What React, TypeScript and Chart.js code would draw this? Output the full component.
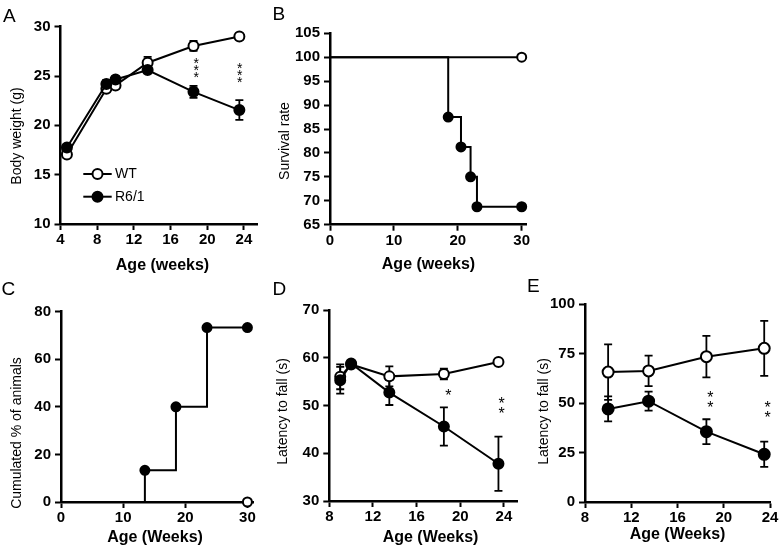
import React, { useEffect, useRef } from 'react';
import { Chart, registerables } from 'chart.js';

Chart.register(...registerables);

// ---------------- DATA ----------------
// Panel A – body weight (g)
const agesA = [4.7, 9, 10, 13.5, 18.5, 23.5];
const wtWeight = [17.05, 23.7, 24.05, 26.35, 28.05, 29.0];
const wtWeightErr = [0.2, 0.3, 0.3, 0.6, 0.5, 0.3];
const r6Weight = [17.75, 24.2, 24.65, 25.6, 23.4, 21.55];
const r6WeightErr = [0.2, 0.4, 0.3, 0.3, 0.6, 1.0];
const sigWeight = [
  { x: 18.8, y: 25.95, t: '***' },
  { x: 23.55, y: 25.45, t: '***' },
];
const legendLabels = ['WT', 'R6/1'];

// Panel B – survival rate
const survWeeksWT = [0, 30];
const survWT = [100, 100];
const survWeeksR6 = [0, 18.5, 20.5, 22, 23, 30];
const survR6 = [100, 87.5, 81.25, 75, 68.75, 68.75];

// Panel C – cumulated % of animals
const onsetWeeksR6 = [13.5, 13.5, 18.5, 23.5, 30];
const onsetR6 = [0, 13.33, 40, 73.33, 73.33];
const onsetWeeksWT = [30];
const onsetWT = [0];

// Panel D – latency to fall (s)
const agesD = [9, 10, 13.5, 18.5, 23.5];
const wtRotaD = [56.0, 58.6, 56.1, 56.6, 59.1];
const wtRotaDErr = [2.6, 0.5, 2.1, 1.1, 0.4];
const r6RotaD = [55.3, 58.8, 52.7, 45.6, 37.8];
const r6RotaDErr = [2.8, 0.5, 2.6, 4.0, 5.7];
const sigD = [
  { x: 18.9, y: 52.8, t: '*' },
  { x: 23.8, y: 50.2, t: '**' },
];

// Panel E – latency to fall (s)
const agesE = [10, 13.5, 18.5, 23.5];
const wtRotaE = [65.6, 66.2, 73.4, 77.6];
const wtRotaEErr = [14.0, 7.7, 10.5, 13.9];
const r6RotaE = [47.0, 50.9, 35.5, 24.1];
const r6RotaEErr = [6.3, 4.8, 6.3, 6.4];
const sigE = [
  { x: 18.85, y: 52.0, t: '**' },
  { x: 23.8, y: 47.0, t: '**' },
];

// ---------------- STYLE / LAYOUT ----------------
const FONT = "'Liberation Sans', Arial, Helvetica, sans-serif";
const W = 780;
const H = 555;
const YAXIS_W = 50;
const XAXIS_H = 40;

type Sig = { x: number; y: number; t: string };
type Series = {
  label: string;
  xs: number[];
  ys: number[];
  errs?: number[];
  filled: boolean;
  radius: number | number[];
  stepped?: boolean;
  order: number;
};
type Panel = {
  letter: string;
  letterPos: [number, number];
  area: { l: number; t: number; r: number; b: number };
  x: { min: number; max: number; step: number };
  y: { min: number; max: number; step: number };
  xTitle: string;
  xTitlePos: [number, number];
  yTitle: string;
  yTitlePos: [number, number];
  series: Series[];
  sigs?: Sig[];
  sigFont?: number;
  sigGap?: number;
  legend?: { x0: number; x1: number; cx: number; tx: number; ys: number[]; radius: number };
};

const PANELS: Panel[] = [
  {
    letter: 'A',
    letterPos: [3, 21.5],
    area: { l: 60.5, t: 26.7, r: 257.7, b: 224 },
    x: { min: 4, max: 25.5, step: 4 },
    y: { min: 10, max: 30, step: 5 },
    xTitle: 'Age (weeks)',
    xTitlePos: [162.5, 269.5],
    yTitle: 'Body weight (g)',
    yTitlePos: [17, 136],
    series: [
      { label: legendLabels[0], xs: agesA, ys: wtWeight, errs: wtWeightErr, filled: false, radius: 5, order: 1 },
      { label: legendLabels[1], xs: agesA, ys: r6Weight, errs: r6WeightErr, filled: true, radius: 5, order: 0 },
    ],
    sigs: sigWeight,
    sigFont: 14,
    sigGap: 7,
    legend: { x0: 83.3, x1: 111.7, cx: 97.5, tx: 115, ys: [174, 196.7], radius: 5 },
  },
  {
    letter: 'B',
    letterPos: [272.5, 19.5],
    area: { l: 330, t: 33.3, r: 526.8, b: 224.7 },
    x: { min: 0, max: 30.8, step: 10 },
    y: { min: 65, max: 105, step: 5 },
    xTitle: 'Age (weeks)',
    xTitlePos: [428.5, 269],
    yTitle: 'Survival rate',
    yTitlePos: [285.5, 141],
    series: [
      { label: 'WT', xs: survWeeksWT, ys: survWT, filled: false, radius: [0, 4.5], order: 1 },
      { label: 'R6/1', xs: survWeeksR6, ys: survR6, filled: true, radius: [0, 4.5, 4.5, 4.5, 4.5, 4.5], stepped: true, order: 0 },
    ],
  },
  {
    letter: 'C',
    letterPos: [1.5, 295],
    area: { l: 61, t: 311.7, r: 253, b: 502 },
    x: { min: 0, max: 30.9, step: 10 },
    y: { min: 0, max: 80, step: 20 },
    xTitle: 'Age (Weeks)',
    xTitlePos: [155, 541.5],
    yTitle: 'Cumulated % of animals',
    yTitlePos: [17.5, 433],
    series: [
      { label: 'WT', xs: onsetWeeksWT, ys: onsetWT, filled: false, radius: 4.5, order: 0 },
      { label: 'R6/1', xs: onsetWeeksR6, ys: onsetR6, filled: true, radius: [0, 4.5, 4.5, 4.5, 4.5], stepped: true, order: 1 },
    ],
  },
  {
    letter: 'D',
    letterPos: [272.5, 295],
    area: { l: 329.3, t: 310, r: 517, b: 501 },
    x: { min: 8, max: 25.2, step: 4 },
    y: { min: 30, max: 70, step: 10 },
    xTitle: 'Age (Weeks)',
    xTitlePos: [430.5, 541.5],
    yTitle: 'Latency to fall (s)',
    yTitlePos: [283.5, 411.5],
    series: [
      { label: 'WT', xs: agesD, ys: wtRotaD, errs: wtRotaDErr, filled: false, radius: 5, order: 1 },
      { label: 'R6/1', xs: agesD, ys: r6RotaD, errs: r6RotaDErr, filled: true, radius: 5, order: 0 },
    ],
    sigs: sigD,
    sigFont: 16,
    sigGap: 10,
  },
  {
    letter: 'E',
    letterPos: [527, 291.5],
    area: { l: 585, t: 304, r: 770, b: 502 },
    x: { min: 8, max: 24, step: 4 },
    y: { min: 0, max: 100, step: 25 },
    xTitle: 'Age (Weeks)',
    xTitlePos: [677.5, 539],
    yTitle: 'Latency to fall (s)',
    yTitlePos: [544.5, 411.5],
    series: [
      { label: 'WT', xs: agesE, ys: wtRotaE, errs: wtRotaEErr, filled: false, radius: 5.5, order: 1 },
      { label: 'R6/1', xs: agesE, ys: r6RotaE, errs: r6RotaEErr, filled: true, radius: 5.5, order: 0 },
    ],
    sigs: sigE,
    sigFont: 16,
    sigGap: 10,
  },
];

// ---------------- PLUGINS ----------------
function makeErrorBars(p: Panel) {
  return {
    id: 'errorBars' + p.letter,
    beforeDatasetsDraw(chart: any) {
      const ctx = chart.ctx;
      const xs = chart.scales.x;
      const ys = chart.scales.y;
      ctx.save();
      ctx.strokeStyle = '#000';
      ctx.lineWidth = 1.8;
      p.series.forEach((s) => {
        if (!s.errs) return;
        s.xs.forEach((xv, i) => {
          const e = s.errs![i];
          if (!e) return;
          const px = xs.getPixelForValue(xv);
          const y1 = ys.getPixelForValue(s.ys[i] + e);
          const y2 = ys.getPixelForValue(s.ys[i] - e);
          ctx.beginPath();
          ctx.moveTo(px, y1);
          ctx.lineTo(px, y2);
          ctx.moveTo(px - 4, y1);
          ctx.lineTo(px + 4, y1);
          ctx.moveTo(px - 4, y2);
          ctx.lineTo(px + 4, y2);
          ctx.stroke();
        });
      });
      ctx.restore();
    },
  };
}

function makeDecor(p: Panel) {
  return {
    id: 'decor' + p.letter,
    afterDraw(chart: any) {
      const ctx = chart.ctx;
      const xs = chart.scales.x;
      const ys = chart.scales.y;
      ctx.save();
      ctx.fillStyle = '#000';
      // panel letter
      ctx.font = `19px ${FONT}`;
      ctx.textAlign = 'left';
      ctx.textBaseline = 'alphabetic';
      ctx.fillText(p.letter, p.letterPos[0], p.letterPos[1]);
      // x title
      ctx.font = `bold 16px ${FONT}`;
      ctx.textAlign = 'center';
      ctx.fillText(p.xTitle, p.xTitlePos[0], p.xTitlePos[1]);
      // y title
      ctx.save();
      ctx.translate(p.yTitlePos[0], p.yTitlePos[1]);
      ctx.rotate(-Math.PI / 2);
      ctx.font = `14px ${FONT}`;
      ctx.textAlign = 'center';
      ctx.textBaseline = 'middle';
      ctx.fillText(p.yTitle, 0, 0);
      ctx.restore();
      // significance stars
      if (p.sigs) {
        const fs = p.sigFont || 14;
        const gap = p.sigGap || 7;
        ctx.font = `${fs}px ${FONT}`;
        ctx.textAlign = 'center';
        ctx.textBaseline = 'alphabetic';
        p.sigs.forEach((s) => {
          const px = xs.getPixelForValue(s.x);
          const py = ys.getPixelForValue(s.y);
          const n = s.t.length;
          for (let k = 0; k < n; k++) {
            const cy = py + (k - (n - 1) / 2) * gap;
            ctx.fillText('*', px, cy + 0.58 * fs);
          }
        });
      }
      // legend
      if (p.legend) {
        const L = p.legend;
        p.series.forEach((s, i) => {
          const y = L.ys[i];
          ctx.strokeStyle = '#000';
          ctx.lineWidth = 2;
          ctx.beginPath();
          ctx.moveTo(L.x0, y);
          ctx.lineTo(L.x1, y);
          ctx.stroke();
          ctx.beginPath();
          ctx.arc(L.cx, y, L.radius, 0, Math.PI * 2);
          ctx.fillStyle = s.filled ? '#000' : '#fff';
          ctx.fill();
          ctx.lineWidth = 2;
          ctx.stroke();
          ctx.fillStyle = '#000';
          ctx.font = `14px ${FONT}`;
          ctx.textAlign = 'left';
          ctx.textBaseline = 'middle';
          ctx.fillText(s.label, L.tx, y);
        });
      }
      ctx.restore();
    },
  };
}

function axisOpts(r: { min: number; max: number; step: number }, horizontal: boolean) {
  return {
    type: 'linear' as const,
    min: r.min,
    max: r.max,
    afterFit: (scale: any) => {
      if (horizontal) scale.height = XAXIS_H;
      else scale.width = YAXIS_W;
    },
    ticks: {
      stepSize: r.step,
      includeBounds: false,
      autoSkip: false,
      maxRotation: 0,
      minRotation: 0,
      color: '#000',
      padding: horizontal ? 1 : 4,
      font: { family: FONT, size: 15, weight: 'bold' as const },
    },
    grid: {
      display: true,
      drawOnChartArea: false,
      drawTicks: true,
      tickLength: 6,
      tickWidth: 2,
      tickColor: '#000',
    },
    border: { display: true, color: '#000', width: 2.5 },
    title: { display: false },
  };
}

function buildConfig(p: Panel): any {
  return {
    type: 'line',
    data: {
      datasets: p.series.map((s) => ({
        label: s.label,
        data: s.xs.map((x, i) => ({ x, y: s.ys[i] })),
        borderColor: '#000',
        borderWidth: 2,
        backgroundColor: s.filled ? '#000' : '#fff',
        pointBackgroundColor: s.filled ? '#000' : '#fff',
        pointBorderColor: '#000',
        pointBorderWidth: 2,
        pointRadius: s.radius,
        pointHoverRadius: s.radius,
        stepped: s.stepped ? true : false,
        tension: 0,
        fill: false,
        clip: false,
        order: s.order,
      })),
    },
    options: {
      responsive: false,
      maintainAspectRatio: false,
      animation: false,
      devicePixelRatio: 1,
      events: [],
      layout: {
        padding: {
          left: p.area.l - YAXIS_W,
          right: W - p.area.r,
          top: p.area.t,
          bottom: H - p.area.b - XAXIS_H,
        },
      },
      scales: {
        x: axisOpts(p.x, true),
        y: axisOpts(p.y, false),
      },
      plugins: {
        legend: { display: false },
        tooltip: { enabled: false },
        title: { display: false },
      },
    },
    plugins: [makeErrorBars(p), makeDecor(p)],
  };
}

export default function App() {
  const refs = useRef<(HTMLCanvasElement | null)[]>([]);
  useEffect(() => {
    const charts = PANELS.map((p, i) => new Chart(refs.current[i] as HTMLCanvasElement, buildConfig(p)));
    return () => charts.forEach((c) => c.destroy());
  }, []);
  return (
    <div style={{ position: 'absolute', left: 0, top: 0, width: W, height: H, background: '#fff' }}>
      {PANELS.map((p, i) => (
        <canvas
          key={p.letter}
          ref={(el) => {
            refs.current[i] = el;
          }}
          width={W}
          height={H}
          style={{ position: 'absolute', left: 0, top: 0, width: W, height: H }}
        />
      ))}
    </div>
  );
}
